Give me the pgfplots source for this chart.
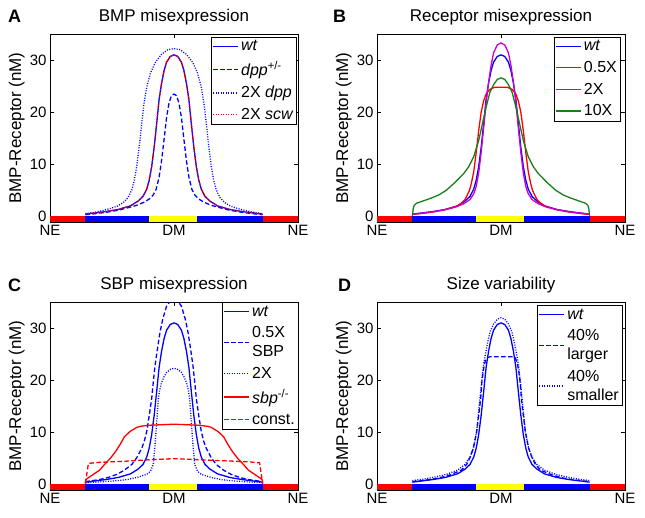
\documentclass[border=0pt]{standalone}
\usepackage{fontspec}
\setmainfont{Liberation Sans}
\usepackage{pgfplots}
\usepackage{pgfplotstable}
\pgfplotsset{compat=1.18}

\definecolor{mblue}{rgb}{0,0,1}
\definecolor{mred}{rgb}{1,0,0}
\definecolor{mmag}{rgb}{0.8,0,0.8}
\definecolor{mgreen}{rgb}{0.1,0.5,0.1}
\definecolor{myellow}{rgb}{1,1,0}

% wild type profile, shared by all four panels
\pgfplotstableread{
x v
-0.715 0.5
-0.65 0.7
-0.55 1.0
-0.45 1.4
-0.35 2.1
-0.29 3.0
-0.25 3.9
-0.22 5.3
-0.20 7.0
-0.18 9.6
-0.16 13.3
-0.14 17.8
-0.12 22.5
-0.10 25.6
-0.08 28.0
-0.06 29.6
-0.03 30.7
0 31.0
0.03 30.7
0.06 29.6
0.08 28.0
0.10 25.6
0.12 22.5
0.14 17.8
0.16 13.3
0.18 9.6
0.20 7.0
0.22 5.3
0.25 3.9
0.29 3.0
0.35 2.1
0.45 1.4
0.55 1.0
0.65 0.7
0.715 0.5
}\wt

\pgfplotsset{
  panel/.style={
    scale only axis, width=248pt, height=188pt,
    xmin=-1, xmax=1, ymin=-1, ymax=35,
    xtick={-1,0,1}, xticklabels={NE,DM,NE},
    ytick={0,10,20,30},
    tick align=inside, tick pos=both, major tick length=4pt,
    tick style={black, line width=0.8pt},
    axis line style={line width=0.9pt},
    ticklabel style={font=\fontsize{15}{15}\selectfont},
    /pgf/number format/assume math mode=true,
    title style={anchor=base, yshift=6.5pt, font=\fontsize{17}{17}\selectfont},
    ylabel={BMP-Receptor (nM)},
    every axis y label/.style={at={(axis description cs:0,0.5)}, xshift=-29pt, rotate=90, anchor=base, font=\fontsize{17}{17}\selectfont},
    legend style={font=\fontsize{16}{19}\selectfont,
      inner xsep=1pt, inner ysep=1.5pt, row sep=5pt, cells={anchor=west, align=left}},
    legend image code/.code={\draw[line width=1.6pt, #1] (0pt,0pt) -- (25pt,0pt);},
    every axis plot/.append style={line width=1.3pt},
  },
  bar/.style={fill=#1, draw=none, forget plot},
  dashd/.style={dash pattern=on 4.5pt off 2.5pt},
  dotd/.style={dash pattern=on 1pt off 1.5pt},
}

\newcommand{\domainbar}{%
  \addplot[bar=mred] coordinates {(-1,-1) (-0.715,-1) (-0.715,0.2) (-1,0.2)};
  \addplot[bar=mblue] coordinates {(-0.715,-1) (-0.205,-1) (-0.205,0.2) (-0.715,0.2)};
  \addplot[bar=myellow] coordinates {(-0.205,-1) (0.185,-1) (0.185,0.2) (-0.205,0.2)};
  \addplot[bar=mblue] coordinates {(0.185,-1) (0.715,-1) (0.715,0.2) (0.185,0.2)};
  \addplot[bar=mred] coordinates {(0.715,-1) (1,-1) (1,0.2) (0.715,0.2)};
}

\begin{document}
\begin{tikzpicture}
\path[use as bounding box] (0,0) rectangle (645pt,517pt);

% ---------- A ----------
\begin{axis}[panel, at={(50pt,295pt)}, anchor=south west,
  title={BMP misexpression},
  legend style={at={(0.995,0.985)}, anchor=north east}]
\addplot[draw=mblue] table {\wt};
\addlegendentry{\textit{wt}}
\addplot[draw=mblue, dashd] coordinates {(-0.715,0.4) (-0.65,0.55) (-0.55,0.85) (-0.45,1.25) (-0.36,1.8) (-0.30,2.2) (-0.24,2.8) (-0.20,3.4) (-0.17,4.1) (-0.145,5.2) (-0.12,7.6) (-0.10,10.8) (-0.08,14.8) (-0.06,19.0) (-0.04,21.8) (-0.02,23.2) (0,23.5) (0.02,23.2) (0.04,21.8) (0.06,19.0) (0.08,14.8) (0.10,10.8) (0.12,7.6) (0.145,5.2) (0.17,4.1) (0.20,3.4) (0.24,2.8) (0.30,2.2) (0.36,1.8) (0.45,1.25) (0.55,0.85) (0.65,0.55) (0.715,0.4)};
\addlegendentry{\textit{dpp}\textsuperscript{+/-}}
\addplot[draw=mblue, dotd] coordinates {(-0.715,0.6) (-0.63,0.9) (-0.54,1.4) (-0.46,2.0) (-0.41,2.7) (-0.37,3.7) (-0.34,5.2) (-0.32,7.0) (-0.30,9.8) (-0.28,13.5) (-0.26,18.0) (-0.24,22.0) (-0.22,24.8) (-0.19,27.5) (-0.15,29.6) (-0.10,31.1) (-0.05,32.0) (0,32.2) (0.05,32.0) (0.10,31.1) (0.15,29.6) (0.19,27.5) (0.22,24.8) (0.24,22.0) (0.26,18.0) (0.28,13.5) (0.30,9.8) (0.32,7.0) (0.34,5.2) (0.37,3.7) (0.41,2.7) (0.46,2.0) (0.54,1.4) (0.63,0.9) (0.715,0.6)};
\addlegendentry{2X \textit{dpp}}
\addplot[draw=mred, dotd] table {\wt};
\addlegendentry{2X \textit{scw}}
\domainbar
\end{axis}

% ---------- B ----------
\begin{axis}[panel, at={(377pt,295pt)}, anchor=south west,
  title={Receptor misexpression},
  legend style={at={(0.98,0.985)}, anchor=north east}]
\addplot[draw=mblue] table {\wt};
\addlegendentry{\textit{wt}}
\addplot[draw=mred] coordinates {(-0.715,0.45) (-0.65,0.6) (-0.55,0.9) (-0.46,1.3) (-0.36,2.0) (-0.32,2.6) (-0.29,3.3) (-0.255,5.0) (-0.24,6.3) (-0.22,8.6) (-0.20,12.3) (-0.18,16.5) (-0.16,20.0) (-0.14,22.2) (-0.12,23.5) (-0.09,24.4) (-0.05,24.8) (0,24.8) (0.05,24.8) (0.09,24.4) (0.12,23.5) (0.14,22.2) (0.16,20.0) (0.18,16.5) (0.20,12.3) (0.22,8.6) (0.24,6.3) (0.255,5.0) (0.29,3.3) (0.32,2.6) (0.36,2.0) (0.46,1.3) (0.55,0.9) (0.65,0.6) (0.715,0.45)};
\addlegendentry{0.5X}
\addplot[draw=mmag] coordinates {(-0.715,0.5) (-0.65,0.65) (-0.55,0.95) (-0.45,1.35) (-0.36,1.9) (-0.30,2.5) (-0.25,3.3) (-0.22,4.4) (-0.20,5.8) (-0.18,8.4) (-0.16,12.3) (-0.14,17.0) (-0.12,21.8) (-0.10,25.8) (-0.08,29.0) (-0.06,31.4) (-0.03,32.9) (0,33.3) (0.03,32.9) (0.06,31.4) (0.08,29.0) (0.10,25.8) (0.12,21.8) (0.14,17.0) (0.16,12.3) (0.18,8.4) (0.20,5.8) (0.22,4.4) (0.25,3.3) (0.30,2.5) (0.36,1.9) (0.45,1.35) (0.55,0.95) (0.65,0.65) (0.715,0.5)};
\addlegendentry{2X}
\addplot[draw=mgreen] coordinates {(-0.715,0) (-0.708,1.6) (-0.70,2.2) (-0.68,2.6) (-0.62,3.1) (-0.56,3.6) (-0.50,4.2) (-0.44,5.1) (-0.37,6.6) (-0.30,8.3) (-0.26,9.6) (-0.22,11.5) (-0.18,14.6) (-0.15,17.8) (-0.12,21.0) (-0.09,23.8) (-0.06,25.3) (-0.03,26.3) (0,26.6) (0.03,26.3) (0.06,25.3) (0.09,23.8) (0.12,21.0) (0.15,17.8) (0.18,14.6) (0.22,11.5) (0.26,9.6) (0.30,8.3) (0.37,6.6) (0.44,5.1) (0.50,4.2) (0.56,3.6) (0.62,3.1) (0.68,2.6) (0.70,2.2) (0.708,1.6) (0.715,0)};
\addlegendentry{10X}
\domainbar
\end{axis}

% ---------- C ----------
\begin{axis}[panel, at={(50pt,27pt)}, anchor=south west,
  title={SBP misexpression},
  legend style={at={(1,1)}, anchor=north east}]
\addplot[draw=mblue] table {\wt};
\addlegendentry{\textit{wt}}
\addplot[draw=mblue, dashd] coordinates {(-0.715,0.6) (-0.60,1.0) (-0.53,1.4) (-0.46,2.0) (-0.40,2.8) (-0.34,3.9) (-0.30,5.2) (-0.26,7.0) (-0.24,8.3) (-0.22,10.2) (-0.20,13.2) (-0.18,16.5) (-0.17,19.0) (-0.153,22.8) (-0.135,25.8) (-0.113,29.2) (-0.09,31.8) (-0.06,34.2) (-0.03,35.2) (0,35.4) (0.03,35.2) (0.06,34.2) (0.09,31.8) (0.113,29.2) (0.135,25.8) (0.153,22.8) (0.17,19.0) (0.18,16.5) (0.20,13.2) (0.22,10.2) (0.24,8.3) (0.26,7.0) (0.30,5.2) (0.34,3.9) (0.40,2.8) (0.46,2.0) (0.53,1.4) (0.60,1.0) (0.715,0.6)};
\addlegendentry{0.5X\\SBP}
\addplot[draw=mblue, dotd] coordinates {(-0.715,0.4) (-0.60,0.55) (-0.50,0.7) (-0.38,1.0) (-0.30,1.4) (-0.22,2.0) (-0.19,2.6) (-0.167,3.9) (-0.155,7.0) (-0.145,10.2) (-0.135,13.5) (-0.126,16.5) (-0.115,18.2) (-0.10,19.6) (-0.08,20.7) (-0.06,21.5) (-0.03,22.1) (0,22.3) (0.03,22.1) (0.06,21.5) (0.08,20.7) (0.10,19.6) (0.115,18.2) (0.126,16.5) (0.135,13.5) (0.145,10.2) (0.155,7.0) (0.167,3.9) (0.19,2.6) (0.22,2.0) (0.30,1.4) (0.38,1.0) (0.50,0.7) (0.60,0.55) (0.715,0.4)};
\addlegendentry{2X}
\addplot[draw=mred] coordinates {(-0.715,0) (-0.712,0.9) (-0.70,1.2) (-0.65,2.0) (-0.60,2.8) (-0.56,3.9) (-0.516,5.0) (-0.47,6.4) (-0.435,7.7) (-0.40,9.2) (-0.355,10.2) (-0.30,11.0) (-0.27,11.2) (-0.20,11.4) (-0.10,11.5) (0,11.6) (0.10,11.5) (0.20,11.4) (0.27,11.2) (0.30,11.0) (0.355,10.2) (0.40,9.2) (0.435,7.7) (0.47,6.4) (0.516,5.0) (0.56,3.9) (0.60,2.8) (0.65,2.0) (0.70,1.2) (0.712,0.9) (0.715,0)};
\addlegendentry{\textit{sbp}\textsuperscript{-/-}}
\addplot[draw=mred, dashd] coordinates {(-0.715,0.3) (-0.69,4.1) (-0.60,4.3) (-0.40,4.5) (-0.20,4.8) (0,5.0) (0.20,4.8) (0.40,4.6) (0.60,4.4) (0.69,4.2) (0.715,0.3)};
\addlegendentry{const.}
\domainbar
\end{axis}

% ---------- D ----------
\begin{axis}[panel, at={(377pt,27pt)}, anchor=south west,
  title={Size variability},
  legend style={at={(0.988,0.984)}, anchor=north east}]
\addplot[draw=mblue] table {\wt};
\addlegendentry{\textit{wt}}
\addplot[draw=mblue, dashd] coordinates {(-0.715,0.6) (-0.60,0.9) (-0.50,1.3) (-0.41,1.9) (-0.32,2.8) (-0.277,3.9) (-0.25,5.2) (-0.223,7.0) (-0.196,10.2) (-0.18,13.3) (-0.164,16.5) (-0.155,19.5) (-0.142,22.0) (-0.13,23.4) (-0.115,24.3) (-0.09,24.5) (-0.05,24.5) (0,24.5) (0.05,24.5) (0.09,24.5) (0.115,24.3) (0.13,23.4) (0.142,22.0) (0.155,19.5) (0.164,16.5) (0.18,13.3) (0.196,10.2) (0.223,7.0) (0.25,5.2) (0.277,3.9) (0.32,2.8) (0.41,1.9) (0.50,1.3) (0.60,0.9) (0.715,0.6)};
\addlegendentry{40\%\\larger}
\addplot[draw=mblue, dotd] coordinates {(-0.715,0.8) (-0.62,1.1) (-0.53,1.5) (-0.44,2.0) (-0.35,2.8) (-0.29,3.9) (-0.25,5.3) (-0.223,7.0) (-0.196,10.2) (-0.185,13.0) (-0.17,16.5) (-0.157,19.5) (-0.142,22.8) (-0.13,24.5) (-0.11,27.0) (-0.089,29.2) (-0.06,30.8) (-0.03,31.7) (0,32.0) (0.03,31.7) (0.06,30.8) (0.089,29.2) (0.11,27.0) (0.13,24.5) (0.142,22.8) (0.157,19.5) (0.17,16.5) (0.185,13.0) (0.196,10.2) (0.223,7.0) (0.25,5.3) (0.29,3.9) (0.35,2.8) (0.44,2.0) (0.53,1.5) (0.62,1.1) (0.715,0.8)};
\addlegendentry{40\%\\smaller}
\domainbar
\end{axis}

% panel letters
\node[anchor=base west, inner sep=0pt, font=\bfseries\fontsize{18}{18}\selectfont] at (8pt,494pt) {A};
\node[anchor=base west, inner sep=0pt, font=\bfseries\fontsize{18}{18}\selectfont] at (333pt,494pt) {B};
\node[anchor=base west, inner sep=0pt, font=\bfseries\fontsize{18}{18}\selectfont] at (8pt,225pt) {C};
\node[anchor=base west, inner sep=0pt, font=\bfseries\fontsize{18}{18}\selectfont] at (338pt,225pt) {D};
\end{tikzpicture}
\end{document}
